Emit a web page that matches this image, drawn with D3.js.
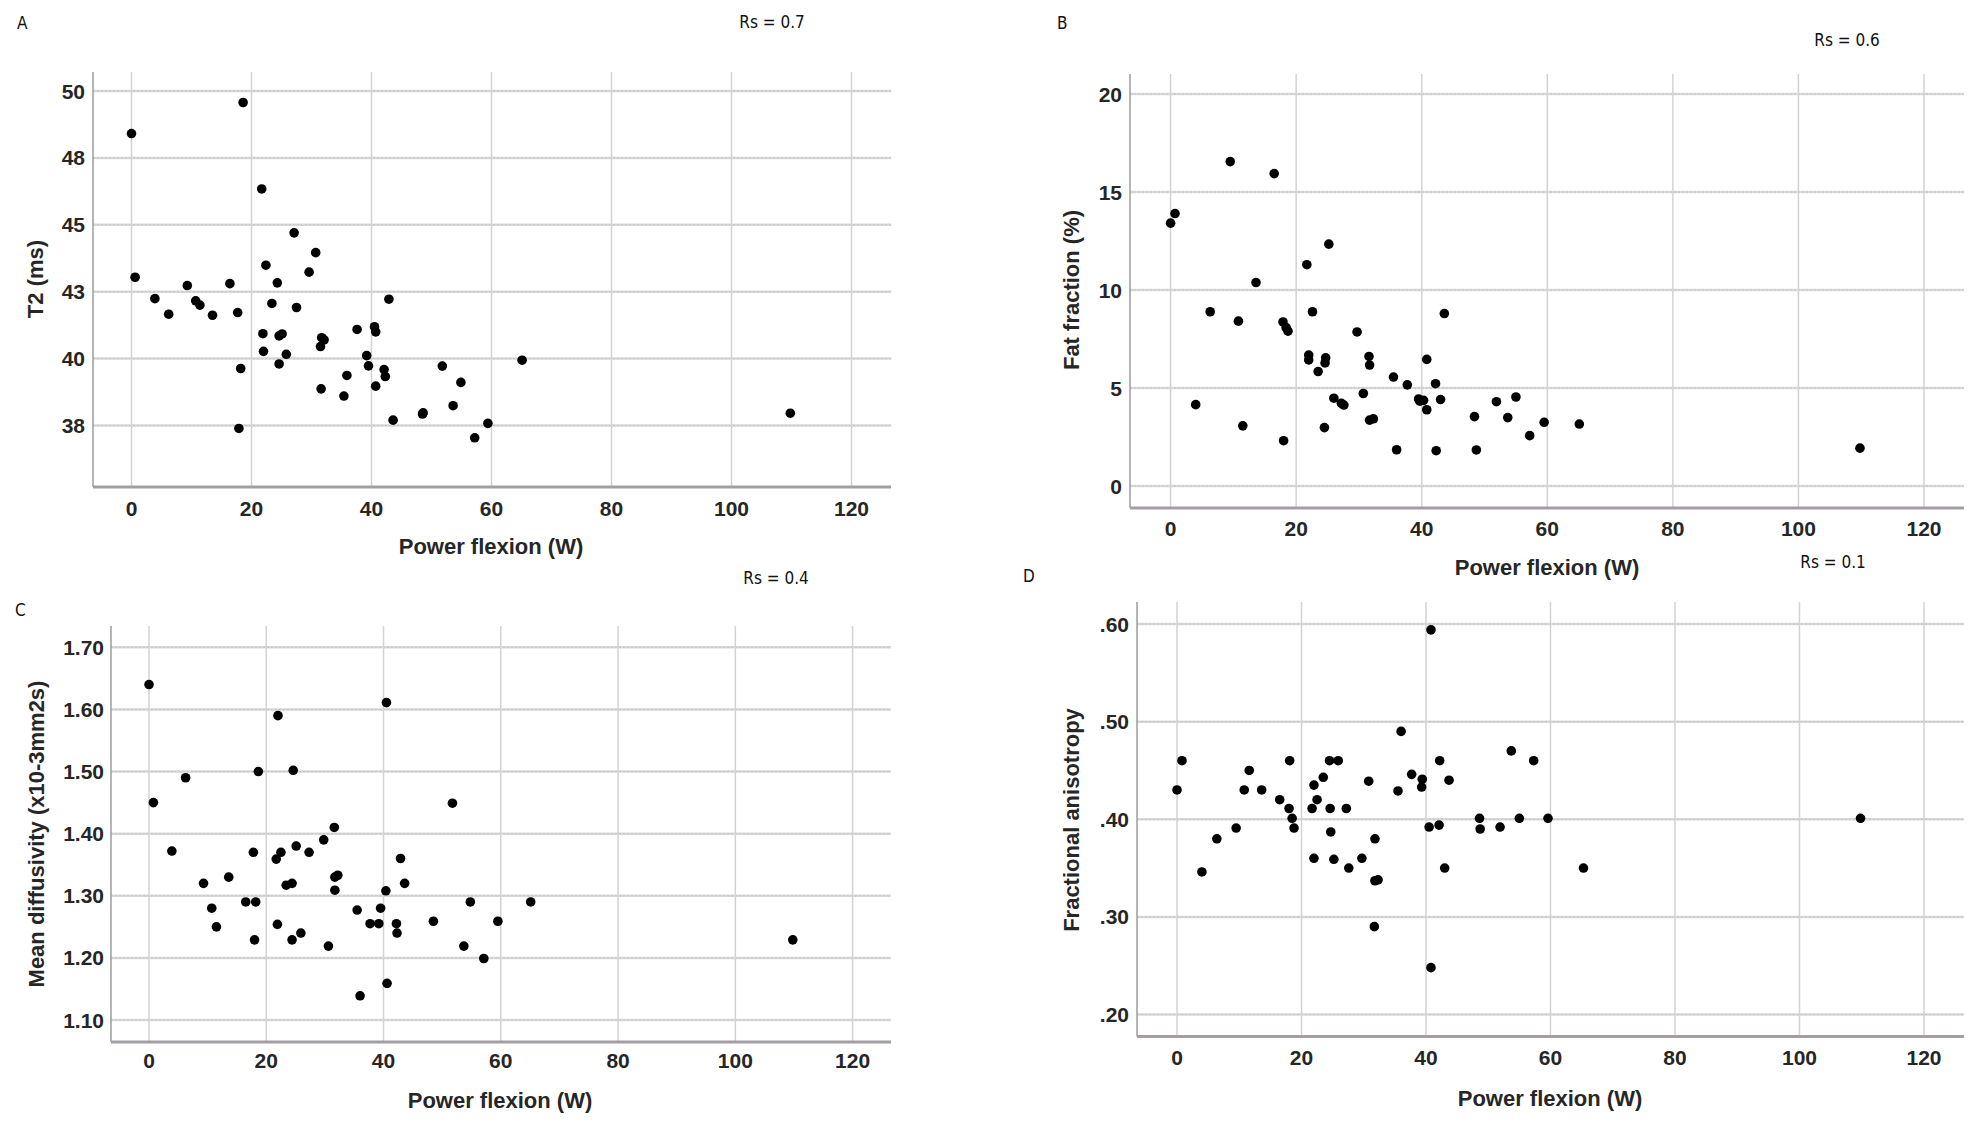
<!DOCTYPE html>
<html>
<head>
<meta charset="utf-8">
<script src="https://cdn.jsdelivr.net/npm/d3@7"></script>
<style>
  body { margin: 0; background: #fff; }
  svg { display: block; }
  .tick-label { font-family: 'Liberation Sans', Arial, sans-serif; font-weight: bold; font-size: 21px; fill: #262626; }
  .axis-title { font-family: 'Liberation Sans', Arial, sans-serif; font-weight: bold; font-size: 22px; fill: #262626; }
  .note { font-family: 'Liberation Sans Narrow', 'DejaVu Sans Condensed', sans-serif; font-size: 17px; fill: #111; }
</style>
</head>
<body>
<svg width="1973" height="1125"></svg>
<script>
// power flexion (W), shared x variable
const powerA = [0, 18.6, 0.6, 3.9, 6.2, 9.3, 10.7, 11.4, 13.5, 16.4, 17.7, 18.2, 17.9, 21.7, 22.4, 21.9, 22.0, 23.4, 24.3, 24.6, 25.1, 24.6, 25.8, 27.1, 27.5, 29.6, 30.7, 31.7, 32.1, 31.5, 31.6, 35.4, 35.9, 37.6, 40.5, 40.7, 39.2, 39.5, 40.7, 42.1, 42.3, 42.9, 43.6, 48.5, 48.6, 51.8, 53.6, 54.9, 57.2, 59.4, 65.1, 109.8];
const t2 = [48.41, 49.57, 43.04, 42.24, 41.66, 42.73, 42.16, 42.0, 41.62, 42.8, 41.72, 39.63, 37.39, 46.34, 43.49, 40.93, 40.27, 42.06, 42.83, 40.85, 40.92, 39.8, 40.16, 44.7, 41.91, 43.23, 43.96, 40.78, 40.7, 40.45, 38.87, 38.6, 39.37, 41.09, 41.19, 41.0, 40.11, 39.73, 38.97, 39.59, 39.33, 42.22, 37.7, 37.93, 37.97, 39.72, 38.24, 39.11, 37.04, 37.58, 39.94, 37.96];

const powerB = [0, 0.7, 9.5, 16.5, 4.0, 6.3, 10.8, 11.5, 13.6, 17.9, 18.4, 18.7, 18.0, 21.7, 22.0, 22.0, 22.6, 23.5, 24.7, 24.6, 25.2, 24.5, 26.0, 27.6, 27.2, 29.7, 30.7, 31.6, 31.7, 31.7, 32.3, 35.5, 36.0, 37.7, 39.5, 39.7, 40.3, 40.8, 40.8, 42.2, 42.3, 43.0, 43.6, 48.4, 48.7, 51.9, 53.7, 55.0, 57.2, 59.5, 65.1, 109.8];
const fatFraction = [13.41, 13.9, 16.55, 15.94, 4.15, 8.89, 8.41, 3.07, 10.38, 8.37, 8.08, 7.9, 2.31, 11.29, 6.68, 6.43, 8.89, 5.84, 6.54, 6.28, 12.34, 2.98, 4.48, 4.13, 4.22, 7.86, 4.72, 6.61, 6.17, 3.36, 3.43, 5.56, 1.85, 5.16, 4.44, 4.33, 4.37, 6.46, 3.89, 5.22, 1.8, 4.41, 8.8, 3.54, 1.84, 4.3, 3.49, 4.54, 2.57, 3.25, 3.16, 1.93];

const powerC = [0, 0.75, 3.9, 6.25, 9.3, 10.7, 11.5, 13.6, 16.5, 17.8, 18.2, 18.0, 18.65, 22.0, 21.7, 22.5, 21.9, 23.4, 24.4, 24.6, 24.4, 25.1, 25.9, 27.3, 29.8, 30.6, 31.6, 31.7, 32.2, 31.7, 35.5, 36.0, 37.7, 39.2, 39.5, 40.5, 40.4, 40.6, 42.2, 42.3, 42.9, 43.6, 48.5, 51.75, 53.7, 54.8, 57.1, 59.5, 65.1, 109.8];
const meanDiffusivity = [1.640, 1.450, 1.372, 1.490, 1.320, 1.280, 1.250, 1.330, 1.290, 1.370, 1.290, 1.229, 1.500, 1.590, 1.359, 1.370, 1.254, 1.317, 1.320, 1.502, 1.229, 1.380, 1.240, 1.370, 1.390, 1.219, 1.410, 1.330, 1.333, 1.309, 1.277, 1.139, 1.255, 1.255, 1.280, 1.611, 1.308, 1.159, 1.255, 1.240, 1.360, 1.320, 1.259, 1.449, 1.219, 1.290, 1.199, 1.259, 1.290, 1.229];

const powerD = [0, 0.8, 4.0, 6.4, 9.5, 10.8, 11.6, 13.6, 16.5, 18.1, 18.0, 18.5, 18.8, 21.7, 22.0, 22.5, 23.5, 22.0, 24.5, 24.6, 24.7, 25.9, 25.2, 27.2, 27.6, 29.7, 30.8, 31.8, 31.8, 32.3, 31.7, 35.5, 36.0, 37.7, 39.4, 39.3, 40.5, 40.8, 40.8, 42.2, 42.1, 43.0, 43.7, 48.6, 48.7, 51.9, 53.7, 55.0, 57.3, 59.6, 65.3, 109.8];
const fractionalAnisotropy = [0.430, 0.460, 0.346, 0.380, 0.391, 0.430, 0.450, 0.430, 0.420, 0.460, 0.411, 0.401, 0.391, 0.411, 0.435, 0.420, 0.443, 0.360, 0.460, 0.411, 0.387, 0.460, 0.359, 0.411, 0.350, 0.360, 0.439, 0.380, 0.337, 0.338, 0.290, 0.429, 0.490, 0.446, 0.441, 0.433, 0.392, 0.594, 0.248, 0.460, 0.394, 0.350, 0.440, 0.401, 0.390, 0.392, 0.470, 0.401, 0.460, 0.401, 0.350, 0.401];

// ticks
const powerTicks = [0, 20, 40, 60, 80, 100, 120];
const t2Ticks = [37.5, 40, 42.5, 45, 47.5, 50];
const t2TickLabels = ['38', '40', '43', '45', '48', '50'];
const fatTicks = [0, 5, 10, 15, 20];
const fatTickLabels = ['0', '5', '10', '15', '20'];
const mdTicks = [1.1, 1.2, 1.3, 1.4, 1.5, 1.6, 1.7];
const mdTickLabels = ['1.10', '1.20', '1.30', '1.40', '1.50', '1.60', '1.70'];
const faTicks = [0.2, 0.3, 0.4, 0.5, 0.6];
const faTickLabels = ['.20', '.30', '.40', '.50', '.60'];

const svg = d3.select('svg');

/**
 * draws one SPSS style scatter panel
 */
function drawPanel(p) {
  const x = d3.scaleLinear().domain([0, 120]).range(p.xr);
  const y = d3.scaleLinear().domain(p.yd).range(p.yr);
  const g = svg.append('g');
  const left = p.box[0], right = p.box[1], top = p.box[2], bottom = p.box[3];

  // horizontal grid
  g.selectAll('line.hg').data(p.yTicks).enter().append('line')
      .attr('x1', left).attr('x2', right)
      .attr('y1', (d) => y(d)).attr('y2', (d) => y(d))
      .style('stroke', '#d9d9d9').style('stroke-width', 2.5);
  g.selectAll('line.hg2').data(p.yTicks).enter().append('line')
      .attr('x1', left).attr('x2', right)
      .attr('y1', (d) => y(d)).attr('y2', (d) => y(d))
      .style('stroke', '#c4c4c4').style('stroke-width', 1)
      .style('stroke-dasharray', '2,2');
  // vertical grid
  g.selectAll('line.vg').data(powerTicks).enter().append('line')
      .attr('x1', (d) => x(d)).attr('x2', (d) => x(d))
      .attr('y1', top).attr('y2', bottom)
      .style('stroke', '#d3d3d3').style('stroke-width', 1.5);

  // axes lines
  g.append('line').attr('x1', left).attr('x2', left).attr('y1', top).attr('y2', bottom)
      .style('stroke', '#9c9c9c').style('stroke-width', 1.5);
  g.append('line').attr('x1', left).attr('x2', right).attr('y1', bottom).attr('y2', bottom)
      .style('stroke', '#a39ea3').style('stroke-width', 3);

  // tick labels
  g.selectAll('text.xt').data(powerTicks).enter().append('text')
      .attr('class', 'tick-label')
      .attr('x', (d) => x(d)).attr('y', p.xLabelY)
      .attr('text-anchor', 'middle').attr('dominant-baseline', 'central')
      .text((d) => d);
  g.selectAll('text.yt').data(p.yTicks).enter().append('text')
      .attr('class', 'tick-label')
      .attr('x', p.yLabelX).attr('y', (d) => y(d))
      .attr('text-anchor', 'end').attr('dominant-baseline', 'central')
      .text((d, i) => p.yLabels[i]);

  // titles
  g.append('text').attr('class', 'axis-title')
      .attr('x', p.xTitle[0]).attr('y', p.xTitle[1])
      .attr('text-anchor', 'middle').attr('dominant-baseline', 'central')
      .text('Power flexion (W)');
  g.append('text').attr('class', 'axis-title')
      .attr('transform', `translate(${p.yTitle[0]},${p.yTitle[1]}) rotate(-90)`)
      .attr('text-anchor', 'middle').attr('dominant-baseline', 'central')
      .text(p.yName);

  // points
  g.selectAll('circle').data(p.xs).enter().append('circle')
      .attr('cx', (d) => x(d)).attr('cy', (d, i) => y(p.ys[i]))
      .attr('r', 4.8).style('fill', '#000');

  g.append('text').attr('class', 'note')
      .attr('x', p.letter[0]).attr('y', p.letter[1])
      .attr('dominant-baseline', 'central').text(p.letterText);
  g.append('text').attr('class', 'note')
      .attr('x', p.rs[0]).attr('y', p.rs[1])
      .attr('text-anchor', 'middle').attr('dominant-baseline', 'central')
      .text(p.rsText);
}

drawPanel({
  xs: powerA, ys: t2, yTicks: t2Ticks, yLabels: t2TickLabels,
  xr: [131.5, 851.5], yd: [37.5, 50], yr: [425.5, 91],
  box: [93, 891, 72, 487], xLabelY: 508, yLabelX: 85,
  xTitle: [491, 546], yTitle: [35, 279], yName: 'T2 (ms)',
  letter: [17, 23], letterText: 'A', rs: [772, 22], rsText: 'Rs = 0.7'
});
drawPanel({
  xs: powerB, ys: fatFraction, yTicks: fatTicks, yLabels: fatTickLabels,
  xr: [1170.6, 1924], yd: [0, 20], yr: [486, 94],
  box: [1130, 1964, 74, 508], xLabelY: 528, yLabelX: 1122,
  xTitle: [1547, 567], yTitle: [1071, 290], yName: 'Fat fraction (%)',
  letter: [1057, 23], letterText: 'B', rs: [1847, 40], rsText: 'Rs = 0.6'
});
drawPanel({
  xs: powerC, ys: meanDiffusivity, yTicks: mdTicks, yLabels: mdTickLabels,
  xr: [149, 852.6], yd: [1.1, 1.7], yr: [1020, 647.3],
  box: [111, 891, 626, 1042], xLabelY: 1060, yLabelX: 104,
  xTitle: [500, 1100], yTitle: [36, 834], yName: 'Mean diffusivity (x10-3mm2s)',
  letter: [15, 610], letterText: 'C', rs: [776, 578], rsText: 'Rs = 0.4'
});
drawPanel({
  xs: powerD, ys: fractionalAnisotropy, yTicks: faTicks, yLabels: faTickLabels,
  xr: [1177, 1924], yd: [0.2, 0.6], yr: [1014.5, 624],
  box: [1137, 1964, 602, 1036.5], xLabelY: 1057, yLabelX: 1129,
  xTitle: [1550, 1098], yTitle: [1071, 820], yName: 'Fractional anisotropy',
  letter: [1023, 576], letterText: 'D', rs: [1833, 562], rsText: 'Rs = 0.1'
});
</script>
</body>
</html>
